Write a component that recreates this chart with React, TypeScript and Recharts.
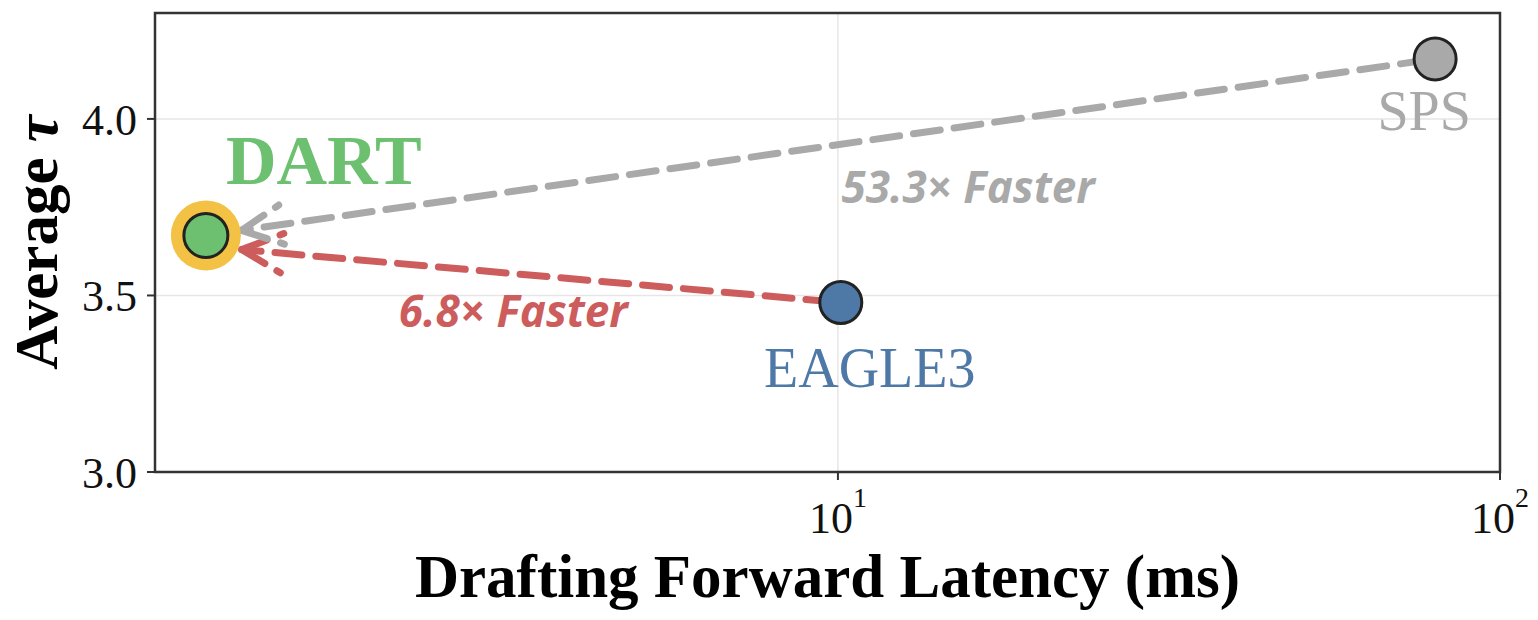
import React from 'react';
import {
  ScatterChart,
  Scatter,
  XAxis,
  YAxis,
  CartesianGrid,
  ReferenceLine,
  ReferenceArea,
  Label,
} from 'recharts';

// values
const methods = ['DART', 'EAGLE3', 'SPS'];
const latencyMs = [1.11, 10.1, 79.8];
const avgTau = [3.67, 3.48, 4.17];
const xTicks = [10, 100];
const yTicks = [3.0, 3.5, 4.0];
const speedupLabels = ['6.8× Faster', '53.3× Faster'];
const speedupFrom = ['EAGLE3', 'SPS'];

const SERIF = '"Liberation Serif", "Times New Roman", serif';
const SANS = '"Open Sans", "Noto Sans", sans-serif';

const styles: Record<string, any> = {
  DART: { fill: '#6cc070', r: 22, halo: '#f3c245', haloR: 35, labelDx: 118, labelDy: -51, fontSize: 70, bold: true, color: '#6cc070' },
  EAGLE3: { fill: '#4e79a7', r: 21, labelDx: 29, labelDy: 84, fontSize: 56, color: '#4e79a7' },
  SPS: { fill: '#a9a9a9', r: 21, labelDx: -11, labelDy: 71, fontSize: 56, color: '#a9a9a9' },
};

const arrowStyles: Record<string, any> = {
  EAGLE3: { color: '#cd5c5c', aimDy: 11, textDx: -10, textDy: 58, anchor: 'middle' },
  SPS: { color: '#a9a9a9', aimDy: 0, textDx: 21, textDy: 56, anchor: 'start' },
};

const points = methods.map((name, i) => ({ name, x: latencyMs[i], y: avgTau[i] }));
const pointOf = (name: string) => points.find(p => p.name === name)!;

const makeMarker = (name: string) => (props: any) => {
  const s = styles[name];
  const { cx, cy } = props;
  return (
    <g>
      {s.halo && <circle cx={cx} cy={cy} r={s.haloR} fill={s.halo} />}
      <circle cx={cx} cy={cy} r={s.r} fill={s.fill} stroke="#222" strokeWidth={3} />
      <text
        x={cx + s.labelDx}
        y={cy + s.labelDy}
        textAnchor="middle"
        fontFamily={SERIF}
        fontSize={s.fontSize}
        fontWeight={s.bold ? 'bold' : 'normal'}
        fill={s.color}
      >
        {name}
      </text>
    </g>
  );
};

const makeArrow = (from: string, text: string) => (p: any) => {
  const a = arrowStyles[from];
  const sx = p.x1, sy = p.y1;
  const tx = p.x2, ty = p.y2 + a.aimDy;
  const dx = tx - sx, dy = ty - sy;
  const len = Math.hypot(dx, dy);
  const ux = dx / len, uy = dy / len;
  const startCut = 8, endCut = 36;
  const x0 = sx + ux * startCut, y0 = sy + uy * startCut;
  const xt = tx - ux * endCut, yt = ty - uy * endCut;
  const back = Math.atan2(-uy, -ux);
  const th = (26 * Math.PI) / 180;
  const bl = 45;
  const b1 = [xt + bl * Math.cos(back + th), yt + bl * Math.sin(back + th)];
  const b2 = [xt + bl * Math.cos(back - th), yt + bl * Math.sin(back - th)];
  const common = {
    stroke: a.color,
    strokeWidth: 7,
    strokeDasharray: '27 14',
    strokeLinecap: 'round' as const,
    fill: 'none',
  };
  const mx = (sx + p.x2) / 2, my = (sy + p.y2) / 2;
  return (
    <g>
      <path d={`M${x0},${y0}L${xt},${yt}`} {...common} />
      <path d={`M${xt},${yt}L${b1[0]},${b1[1]}`} {...common} />
      <path d={`M${xt},${yt}L${b2[0]},${b2[1]}`} {...common} />
      <text
        x={mx + a.textDx}
        y={my + a.textDy}
        textAnchor={a.anchor}
        fontFamily={SANS}
        fontStyle="italic"
        fontWeight="bold"
        fontSize={44}
        fill={a.color}
      >
        {text}
      </text>
    </g>
  );
};

const XTick = (props: any) => {
  const { x, y, payload } = props;
  const exp = Math.round(Math.log10(payload.value));
  return (
    <text x={x} y={y + 53} textAnchor="middle" fontFamily={SERIF} fontSize={44} fill="#111">
      <tspan>10</tspan>
      <tspan dy={-26} fontSize={28}>{exp}</tspan>
    </text>
  );
};

const XTitle = (props: any) => {
  const vb = props.viewBox;
  return (
    <text x={vb.x + vb.width / 2} y={597} textAnchor="middle" fontFamily={SERIF} fontWeight="bold" fontSize={61} fill="#000">
      Drafting Forward Latency (ms)
    </text>
  );
};

const YTitle = (props: any) => {
  const vb = props.viewBox;
  const cx = 57, cy = vb.y + vb.height / 2;
  return (
    <text
      x={cx}
      y={cy}
      transform={`rotate(-90 ${cx} ${cy})`}
      textAnchor="middle"
      fontFamily={SERIF}
      fontWeight="bold"
      fontSize={61}
      fill="#000"
    >
      Average <tspan fontStyle="italic">τ</tspan>
    </text>
  );
};

export default function App() {
  const dart = pointOf('DART');
  return (
    <div style={{ position: 'absolute', left: 0, top: 0, background: '#fff' }}>
      <ScatterChart width={1538} height={620} margin={{ top: 13, right: 38, left: 0, bottom: 0 }}>
        <CartesianGrid stroke="#e6e6e6" strokeWidth={1.5} horizontalValues={yTicks} verticalValues={xTicks} />
        <XAxis
          type="number"
          dataKey="x"
          scale="log"
          domain={[0.93, 100]}
          allowDataOverflow
          ticks={xTicks}
          tick={<XTick />}
          tickSize={8}
          tickMargin={0}
          tickLine={{ stroke: '#333', strokeWidth: 2 }}
          axisLine={false}
          height={148}
        >
          <Label content={<XTitle />} />
        </XAxis>
        <YAxis
          type="number"
          dataKey="y"
          domain={[3.0, 4.3]}
          allowDataOverflow
          ticks={yTicks}
          tickFormatter={(v: number) => v.toFixed(1)}
          tick={{ fontFamily: SERIF, fontSize: 44, fill: '#111' }}
          tickSize={8}
          tickMargin={10}
          tickLine={{ stroke: '#333', strokeWidth: 2 }}
          axisLine={false}
          width={155}
        >
          <Label content={<YTitle />} />
        </YAxis>
        <ReferenceArea x1={0.93} x2={100} y1={3.0} y2={4.3} fill="none" stroke="#333" strokeWidth={2.5} ifOverflow="visible" />
        {points.map(p => (
          <Scatter key={p.name} name={p.name} data={[p]} shape={makeMarker(p.name)} isAnimationActive={false} />
        ))}
        {speedupFrom.map((from, i) => {
          const s = pointOf(from);
          return (
            <ReferenceLine
              key={from}
              segment={[{ x: s.x, y: s.y }, { x: dart.x, y: dart.y }]}
              ifOverflow="visible"
              shape={makeArrow(from, speedupLabels[i])}
            />
          );
        })}
      </ScatterChart>
    </div>
  );
}
